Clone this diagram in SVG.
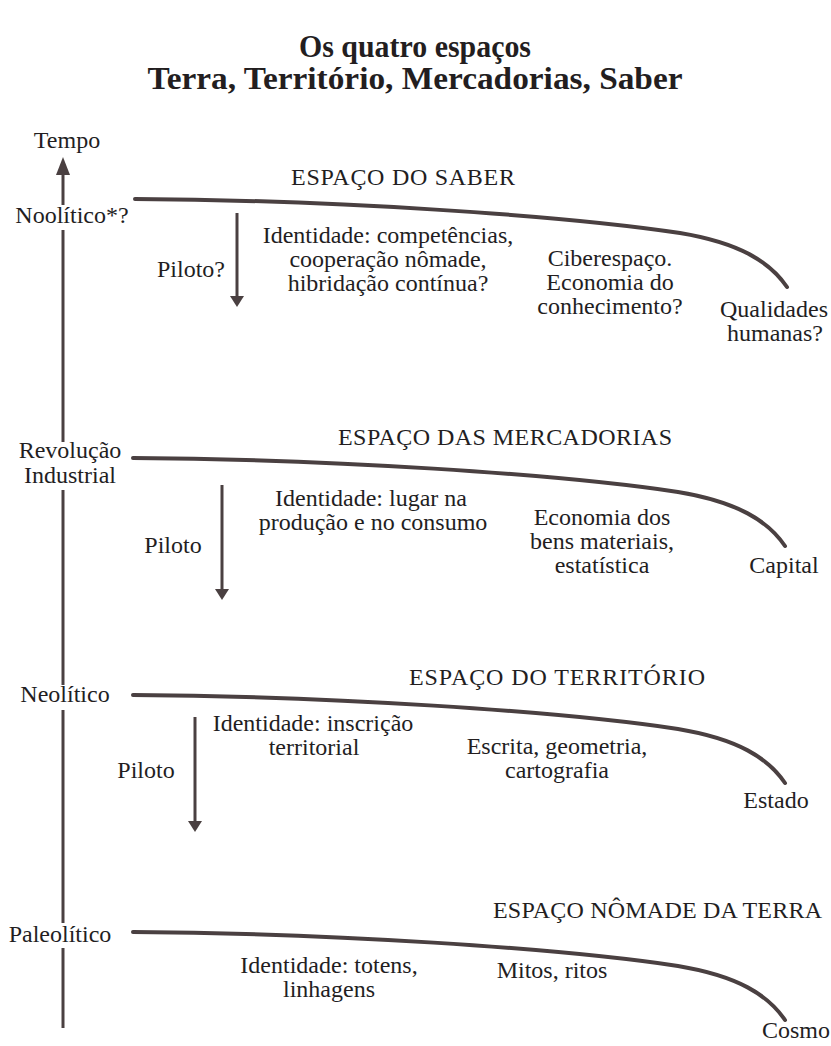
<svg xmlns="http://www.w3.org/2000/svg" xmlns:xlink="http://www.w3.org/1999/xlink" width="831" height="1046" viewBox="0 0 831 1046">
  <style>
    text { font-family: "Liberation Serif", "DejaVu Serif", serif; fill: #231e1f; font-size: 24px; }
    .title { font-weight: bold; font-size: 31px; text-anchor: middle; }
    .c { text-anchor: middle; }
    .line { fill: none; stroke: #4a4041; stroke-width: 3; }
    .curve { fill: none; stroke: #4a4041; stroke-width: 4; stroke-linecap: round; }
  </style>
  <defs>
    <marker id="headUp" markerUnits="userSpaceOnUse" markerWidth="18" markerHeight="14" refX="0" refY="7" orient="auto">
      <path d="M0,0 L18,7 L0,14 z" fill="#4a4041"/>
    </marker>
    <marker id="headDown" markerUnits="userSpaceOnUse" markerWidth="11" markerHeight="14" refX="0" refY="7" orient="auto">
      <path d="M0,0 L11,7 L0,14 z" fill="#4a4041"/>
    </marker>
    <path id="space" d="M135,199 C330,200 560,215 680,233 C740,243 770,262 787,287"/>
  </defs>
  <rect width="831" height="1046" fill="#ffffff"/>

  <g id="title">
    <text class="title" x="415" y="57" textLength="232" lengthAdjust="spacingAndGlyphs">Os quatro espaços</text>
    <text class="title" x="415" y="89" textLength="535" lengthAdjust="spacingAndGlyphs">Terra, Território, Mercadorias, Saber</text>
  </g>

  <g id="connectors">
    <line class="line" x1="63" y1="205" x2="63" y2="175" marker-end="url(#headUp)"/>
    <line class="line" x1="63" y1="230" x2="63" y2="442"/>
    <line class="line" x1="63" y1="490" x2="63" y2="685"/>
    <line class="line" x1="63" y1="710" x2="63" y2="923"/>
    <line class="line" x1="63" y1="948" x2="63" y2="1028"/>
    <use class="curve" xlink:href="#space" href="#space"/>
    <use class="curve" xlink:href="#space" href="#space" transform="translate(-2,259)"/>
    <use class="curve" xlink:href="#space" href="#space" transform="translate(-2,496)"/>
    <use class="curve" xlink:href="#space" href="#space" transform="translate(-2,733)"/>
    <line class="line" x1="237" y1="213" x2="237" y2="296" marker-end="url(#headDown)"/>
    <line class="line" x1="222" y1="485" x2="222" y2="589" marker-end="url(#headDown)"/>
    <line class="line" x1="195" y1="717" x2="195" y2="821" marker-end="url(#headDown)"/>
  </g>

  <g id="axis-labels">
    <text class="c" x="67" y="148">Tempo</text>
    <text class="c" x="72" y="223">Noolítico*?</text>
    <text class="c" x="70" y="458">Revolução</text>
    <text class="c" x="70" y="483">Industrial</text>
    <text class="c" x="65" y="702">Neolítico</text>
    <text class="c" x="60" y="942">Paleolítico</text>
  </g>

  <g id="espaco-saber">
    <text x="291" y="185" textLength="224" lengthAdjust="spacing">ESPAÇO DO SABER</text>
    <text class="c" x="191" y="277">Piloto?</text>
    <text class="c" x="388" y="243">Identidade: competências,</text>
    <text class="c" x="388" y="267">cooperação nômade,</text>
    <text class="c" x="388" y="291">hibridação contínua?</text>
    <text class="c" x="610" y="266">Ciberespaço.</text>
    <text class="c" x="610" y="290">Economia do</text>
    <text class="c" x="610" y="314">conhecimento?</text>
    <text class="c" x="774" y="317">Qualidades</text>
    <text class="c" x="775" y="341">humanas?</text>
  </g>

  <g id="espaco-mercadorias">
    <text x="338" y="445" textLength="334" lengthAdjust="spacing">ESPAÇO DAS MERCADORIAS</text>
    <text class="c" x="173" y="553">Piloto</text>
    <text class="c" x="371" y="506">Identidade: lugar na</text>
    <text class="c" x="373" y="530">produção e no consumo</text>
    <text class="c" x="602" y="525">Economia dos</text>
    <text class="c" x="602" y="549">bens materiais,</text>
    <text class="c" x="602" y="573">estatística</text>
    <text class="c" x="784" y="573">Capital</text>
  </g>

  <g id="espaco-territorio">
    <text x="409" y="685" textLength="296" lengthAdjust="spacing">ESPAÇO DO TERRITÓRIO</text>
    <text class="c" x="146" y="778">Piloto</text>
    <text class="c" x="313" y="731">Identidade: inscrição</text>
    <text class="c" x="314" y="755">territorial</text>
    <text class="c" x="557" y="754">Escrita, geometria,</text>
    <text class="c" x="557" y="778">cartografia</text>
    <text class="c" x="776" y="808">Estado</text>
  </g>

  <g id="espaco-terra">
    <text x="493" y="918" textLength="329" lengthAdjust="spacing">ESPAÇO NÔMADE DA TERRA</text>
    <text class="c" x="329" y="973">Identidade: totens,</text>
    <text class="c" x="329" y="997">linhagens</text>
    <text class="c" x="552" y="978">Mitos, ritos</text>
    <text class="c" x="796" y="1038">Cosmo</text>
  </g>
</svg>
